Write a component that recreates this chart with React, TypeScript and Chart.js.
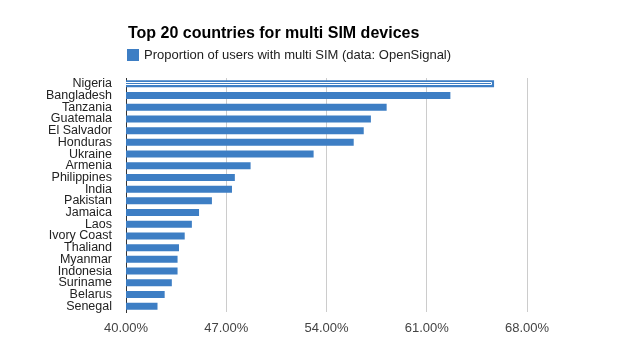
import React, { useEffect, useRef } from "react";
import { Chart, registerables } from "chart.js";

Chart.register(...registerables);

const TITLE = "Top 20 countries for multi SIM devices";
const SERIES_LABEL = "Proportion of users with multi SIM (data: OpenSignal)";
const countries = [
  "Nigeria", "Bangladesh", "Tanzania", "Guatemala", "El Salvador", "Honduras",
  "Ukraine", "Armenia", "Philippines", "India", "Pakistan", "Jamaica", "Laos",
  "Ivory Coast", "Thaliand", "Myanmar", "Indonesia", "Suriname", "Belarus", "Senegal",
];
const multiSimShare = [
  65.7, 62.65, 58.2, 57.1, 56.6, 55.9, 53.1, 48.7, 47.6, 47.4, 46.0, 45.1, 44.6,
  44.1, 43.7, 43.6, 43.6, 43.2, 42.7, 42.2,
];
const X_MIN = 40;
const X_MAX = 68;
const X_STEP = 7;

const BLUE = "#3d7ec4";
const FONT = "'Liberation Sans', Arial, sans-serif";

export default function App() {
  const ref = useRef<HTMLCanvasElement | null>(null);

  useEffect(() => {
    if (!ref.current) return;
    const headerPlugin = {
      id: "header",
      afterDraw(chart: any) {
        const ctx = chart.ctx;
        const left = chart.chartArea.left + 1;
        ctx.save();
        ctx.fillStyle = "#000";
        ctx.font = `bold 16px ${FONT}`;
        ctx.textBaseline = "alphabetic";
        ctx.textAlign = "left";
        ctx.fillText(TITLE, left + 1, 38);
        ctx.fillStyle = BLUE;
        ctx.fillRect(left, 49, 12, 12);
        ctx.fillStyle = "#222";
        ctx.font = `13px ${FONT}`;
        ctx.fillText(SERIES_LABEL, left + 17, 59);
        ctx.restore();
      },
    };
    const highlightPlugin = {
      id: "highlight",
      afterDatasetsDraw(chart: any) {
        const bar = chart.getDatasetMeta(0).data[0];
        if (!bar) return;
        const a = chart.chartArea;
        const p = bar.getProps(["x", "y", "base", "height"], true);
        const x0 = Math.round(Math.min(p.x, p.base));
        const x1 = Math.round(Math.max(p.x, p.base));
        const top = Math.round(p.y - p.height / 2);
        const h = Math.round(p.height);
        const ctx = chart.ctx;
        ctx.save();
        ctx.beginPath();
        ctx.rect(a.left, a.top, a.right - a.left, a.bottom - a.top);
        ctx.clip();
        ctx.beginPath();
        ctx.strokeStyle = "#fff";
        ctx.lineWidth = 1;
        ctx.rect(x0 + 2.5, top + 2.5, x1 - x0 - 5, h - 5);
        ctx.stroke();
        ctx.restore();
      },
    };
    const chart = new Chart(ref.current, {
      type: "bar",
      data: {
        labels: countries,
        datasets: [
          {
            label: SERIES_LABEL,
            data: multiSimShare,
            backgroundColor: BLUE,
            borderWidth: 0,
            barPercentage: 0.6,
            categoryPercentage: 1,
          },
        ],
      },
      options: {
        indexAxis: "y",
        responsive: false,
        animation: false,
        devicePixelRatio: 1,
        layout: { padding: { top: 78, right: 99, bottom: 19, left: 0 } },
        plugins: {
          legend: { display: false },
          title: { display: false },
          tooltip: { enabled: false },
        },
        scales: {
          x: {
            min: X_MIN,
            max: X_MAX,
            afterFit: (s: any) => { s.height = 30; },
            ticks: {
              stepSize: X_STEP,
              color: "#444",
              font: { family: FONT, size: 13 },
              padding: 9,
              callback: (v: any) => Number(v).toFixed(2) + "%",
            },
            grid: {
              color: (c: any) => (c.tick && c.tick.value === X_MIN ? "rgba(0,0,0,0)" : "#cccccc"),
              drawTicks: false,
            },
            border: { display: false },
          },
          y: {
            afterFit: (s: any) => { s.width = 126; },
            ticks: {
              color: "#222",
              font: { family: FONT, size: 12.5 },
              padding: 14,
              autoSkip: false,
            },
            grid: { display: false, drawTicks: false },
            border: { display: true, color: "#333", width: 1 },
          },
        },
      },
      plugins: [headerPlugin, highlightPlugin],
    });
    return () => chart.destroy();
  }, []);

  return (
    <div style={{ position: "absolute", left: 0, top: 0, width: 626, height: 361, background: "#fff" }}>
      <canvas ref={ref} width={626} height={361} style={{ display: "block", width: 626, height: 361 }} />
    </div>
  );
}
